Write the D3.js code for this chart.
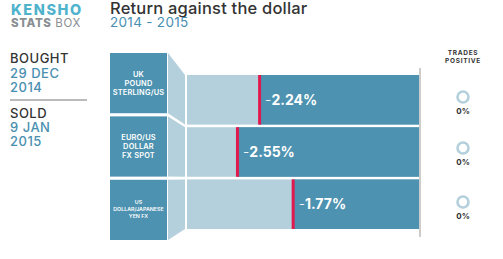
<!DOCTYPE html>
<meta charset="utf-8">
<script src="https://d3js.org/d3.v7.min.js"></script>
<style>
  body { margin: 0; background: #fff; }
  text { font-family: Inter, "Open Sans", sans-serif; }
</style>
<div id="chart"></div>
<script>

// data
var pairs = ["UK POUND STERLING/US", "EURO/US DOLLAR FX SPOT", "US DOLLAR/JAPANESE YEN FX"];
var pairLines = [["UK", "POUND", "STERLING/US"], ["EURO/US", "DOLLAR", "FX SPOT"], ["US", "DOLLAR/JAPANESE", "YEN FX"]];
var returns = [-2.24, -2.55, -1.77];
var tradesPositive = [0, 0, 0];

var width = 503, height = 259;
var dark = "#4d92b0", light = "#b4d0dc", blue = "#4a8fb0";

var svg = d3.select("#chart")
  .append("svg")
    .attr("width", width)
    .attr("height", height);

// header
svg.append("text").attr("x", 11).attr("y", 15)
  .style("font-size", "14.5px").style("font-weight", 800).attr("fill", "#4fb3cc")
  .style("letter-spacing", "1.6px")
  .text("KENSHO");
svg.append("text").attr("x", 11).attr("y", 27)
  .style("font-size", "11.5px").attr("fill", "#8a8f93")
  .style("letter-spacing", "0.6px")
  .html('<tspan font-weight="800">STATS</tspan> BOX');

svg.append("text").attr("x", 110).attr("y", 14)
  .style("font-size", "16.5px").style("font-weight", 500).attr("fill", "#333")
  .style("letter-spacing", "0.2px")
  .text("Return against the dollar");
svg.append("text").attr("x", 110).attr("y", 27)
  .style("font-size", "13.5px").attr("fill", blue)
  .style("letter-spacing", "0.3px")
  .text("2014 - 2015");

// bought / sold
var side = [
  {t: "BOUGHT", y: 63, c: "#333"}, {t: "29 DEC", y: 78, c: blue}, {t: "2014", y: 92, c: blue},
  {t: "SOLD", y: 118, c: "#333"}, {t: "9 JAN", y: 132, c: blue}, {t: "2015", y: 146, c: blue}
];
svg.selectAll(".side").data(side).enter().append("text")
  .attr("x", 10).attr("y", function(d) { return d.y; })
  .style("font-size", "13px").style("font-weight", 500)
  .style("letter-spacing", "0.5px")
  .attr("fill", function(d) { return d.c; })
  .text(function(d) { return d.t; });
svg.append("line").attr("x1", 10).attr("x2", 87).attr("y1", 100).attr("y2", 100)
  .attr("stroke", "#777").attr("stroke-width", 1);

// scales
var yBox = d3.scaleBand().domain(pairs).range([53, 240]).paddingInner(0.05);
var yBar = d3.scaleBand().domain(pairs).range([75, 229]).paddingInner(0.05);
var x = d3.scaleLinear().domain([-3.25, 0]).range([187, 419]);

var boxX0 = 110, boxX1 = 167, funX0 = 168, funX1 = 185;

// funnels
svg.selectAll(".funnel").data(pairs).enter().append("path")
  .attr("fill", light)
  .attr("d", function(d) {
    return "M" + funX0 + "," + yBox(d) +
      "L" + funX1 + "," + yBar(d) +
      "L" + funX1 + "," + (yBar(d) + yBar.bandwidth()) +
      "L" + funX0 + "," + (yBox(d) + yBox.bandwidth()) + "Z";
  });

// label boxes
svg.selectAll(".box").data(pairs).enter().append("rect")
  .attr("x", boxX0).attr("width", boxX1 - boxX0)
  .attr("y", function(d) { return yBox(d); })
  .attr("height", yBox.bandwidth())
  .attr("fill", dark);

pairs.forEach(function(p, i) {
  var small = i == 2;
  var fs = small ? 5.3 : 7.4, lh = small ? 6.8 : 9;
  var cy = yBox(p) + yBox.bandwidth() / 2 - (small ? 5.5 : 6.5);
  svg.append("text")
    .attr("x", (boxX0 + boxX1) / 2).attr("y", cy)
    .attr("text-anchor", "middle").attr("fill", "#fff")
    .style("font-size", fs + "px").style("font-weight", 600)
    .style("letter-spacing", small ? "0px" : "0.2px")
    .selectAll("tspan").data(pairLines[i]).enter().append("tspan")
      .attr("x", (boxX0 + boxX1) / 2)
      .attr("dy", function(d, j) { return j == 0 ? 0 : lh; })
      .text(function(d) { return d; });
});

// bars: light background, dark part from the marker to zero
svg.selectAll(".bg").data(pairs).enter().append("rect")
  .attr("x", x.range()[0]).attr("width", x.range()[1] - x.range()[0])
  .attr("y", function(d) { return yBar(d); })
  .attr("height", yBar.bandwidth())
  .attr("fill", light);

svg.selectAll(".val").data(pairs).enter().append("rect")
  .attr("x", function(d, i) { return x(returns[i]); })
  .attr("width", function(d, i) { return x(0) - x(returns[i]); })
  .attr("y", function(d) { return yBar(d); })
  .attr("height", yBar.bandwidth())
  .attr("fill", dark);

svg.selectAll(".mark").data(pairs).enter().append("rect")
  .attr("x", function(d, i) { return x(returns[i]) - 1; })
  .attr("width", 3)
  .attr("y", function(d) { return yBar(d); })
  .attr("height", yBar.bandwidth())
  .attr("fill", "#e01a4f");

svg.selectAll(".lbl").data(pairs).enter().append("text")
  .attr("x", function(d, i) { return x(returns[i]) + 6; })
  .attr("y", function(d) { return yBar(d) + yBar.bandwidth() / 2 + 5; })
  .attr("fill", "#fff")
  .style("font-size", "14px").style("font-weight", 700)
  .html(function(d, i) {
    return '<tspan font-weight="300">-</tspan>' + Math.abs(returns[i]).toFixed(2) + "%";
  });

// zero line
svg.append("line").attr("x1", 420).attr("x2", 420).attr("y1", 68).attr("y2", 237)
  .attr("stroke", "#999").attr("stroke-width", 1);

// trades positive
svg.append("text").attr("x", 463).attr("y", 55)
  .attr("text-anchor", "middle").attr("fill", "#333")
  .style("font-size", "6.5px").style("font-weight", 700).style("letter-spacing", "0.7px")
  .selectAll("tspan").data(["TRADES", "POSITIVE"]).enter().append("tspan")
    .attr("x", 463).attr("dy", function(d, j) { return j == 0 ? 0 : 8; })
    .text(function(d) { return d; });

var ringY = [97, 148, 202];
svg.selectAll(".ring").data(tradesPositive).enter().append("circle")
  .attr("cx", 463).attr("cy", function(d, i) { return ringY[i]; })
  .attr("r", 5.5)
  .attr("fill", "none").attr("stroke", light).attr("stroke-width", 2.6);

svg.selectAll(".pct").data(tradesPositive).enter().append("text")
  .attr("x", 463).attr("y", function(d, i) { return ringY[i] + 17; })
  .attr("text-anchor", "middle").attr("fill", "#333")
  .style("font-size", "8px").style("font-weight", 700)
  .text(function(d) { return d + "%"; });

</script>
